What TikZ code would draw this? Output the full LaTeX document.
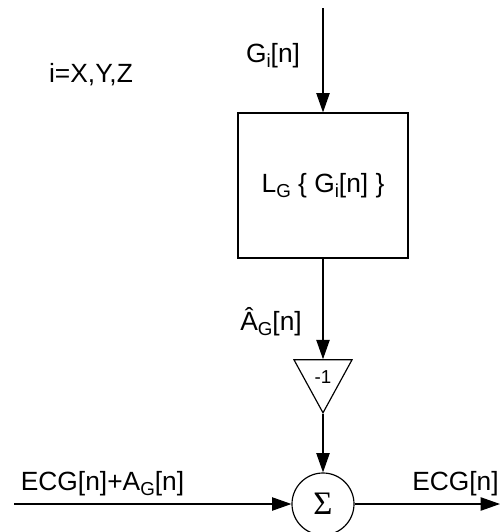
\documentclass[tikz,border=0pt]{standalone}
\usepackage{fontspec}
\setmainfont{Liberation Sans}
\newfontfamily\sigmafont{Liberation Serif}
\usepackage{tikz}
\usetikzlibrary{shapes.geometric, arrows.meta, positioning}
\newcommand{\lowidx}[1]{\raisebox{-4.3pt}{\fontsize{16}{16}\selectfont #1}}

\begin{document}
\begin{tikzpicture}[
  x=0.03cm, y=-0.03cm,
  block/.style={draw, line width=1pt, minimum width=5.1cm, minimum height=4.35cm, font=\fontsize{22.5}{27}\selectfont},
  gain/.style={draw, line width=1pt, isosceles triangle, shape border rotate=-90, isosceles triangle stretches, minimum width=1.74cm, minimum height=1.59cm, inner sep=0pt},
  adder/.style={draw, circle, line width=1pt, minimum size=1.86cm, inner sep=0pt, font=\sigmafont\fontsize{28}{32}\selectfont},
  arrow/.style={-{Triangle[length=0.58cm, width=0.4cm]}, line width=1pt},
  lab/.style={font=\fontsize{22.5}{27}\selectfont, inner sep=0pt, anchor=base}
]
\useasboundingbox (0,0) rectangle (500,532);

\node[block] (lg) at (323,185.5) {L\lowidx{G} \{ G\lowidx{i}[n] \}};
\node[gain] (neg) at (323,377) {};
\node[font=\fontsize{16}{18}\selectfont] (negtxt) at (323,377) {-1};
\node[adder] (sum) at (323,504) {Σ};

\coordinate (src) at (323,8);
\coordinate (inp) at (14,504);
\coordinate (outp) at (500,504);

% Input signal
\draw[arrow] (src) -- (lg.north);
\node[lab] (glab) at (273,62) {G\lowidx{i}[n]};
\node[lab] (idx) at (91,82) {i=X,Y,Z};

% Estimated artefact, inverted
\draw[arrow] (lg.south) -- (neg.north);
\node[lab] (alab) at (271,330) {Â\lowidx{G}[n]};
\draw[arrow] (neg.apex) -- (sum.north);

% Subtraction
\draw[arrow] (inp) -- (sum.west);
\node[lab] (ecgin) at (102.5,490) {ECG[n]+A\lowidx{G}[n]};
\draw[arrow] (sum.east) -- (outp);
\node[lab] (ecgout) at (455.5,490) {ECG[n]};

\end{tikzpicture}
\end{document}
